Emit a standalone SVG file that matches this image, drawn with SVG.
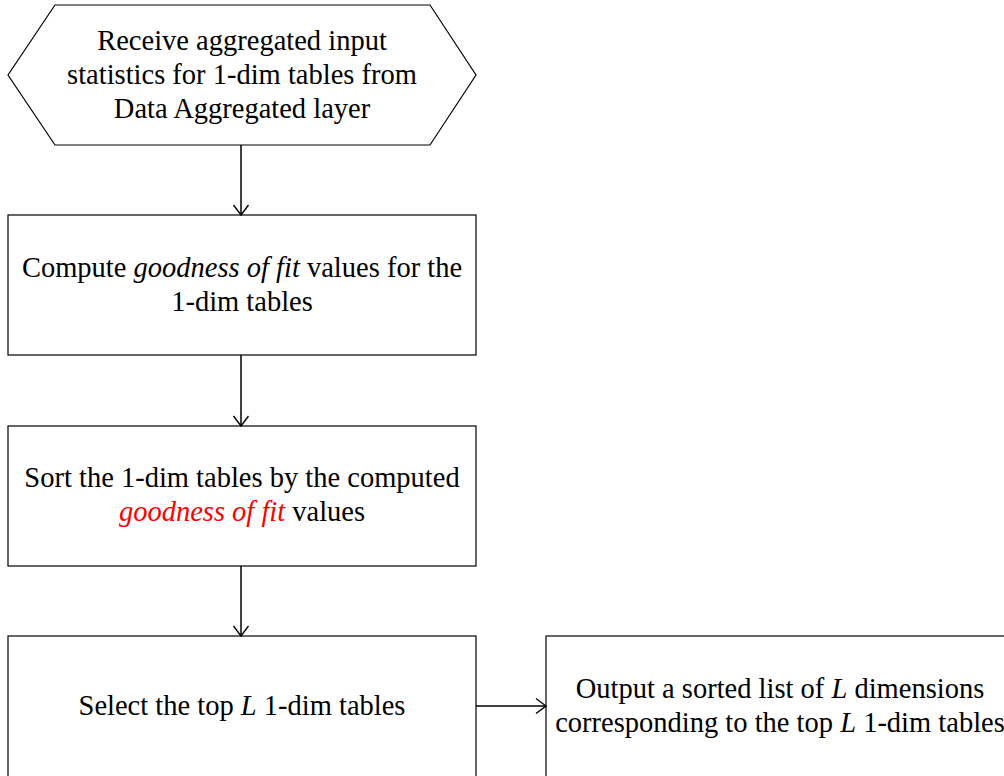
<svg xmlns="http://www.w3.org/2000/svg" width="1004" height="776" viewBox="0 0 1004 776">
<style>
.n{fill:#fff;stroke:#000;stroke-width:1.2}
.t{font-family:"Liberation Serif","Times New Roman",serif;font-size:28.5px;fill:#000;text-anchor:middle}
.i{font-style:italic}
.r{fill:#ff0000}
.c{stroke:#000;stroke-width:1.5;fill:none}
</style>
<defs>
<marker id="a" viewBox="0 0 12 18" refX="11" refY="9" markerWidth="12" markerHeight="18" markerUnits="userSpaceOnUse" orient="auto">
<polyline points="1,1.5 11,9 1,16.5" fill="none" stroke="#000" stroke-width="1.4"/>
</marker>
</defs>
<rect width="1004" height="776" fill="#fff"/>
<g id="n1">
<polygon class="n" points="55,5 430,5 476,75 430,145 55,145 8,75"/>
<text class="t" x="242" y="50">Receive aggregated input</text>
<text class="t" x="242" y="84">statistics for 1-dim tables from</text>
<text class="t" x="242" y="118">Data Aggregated layer</text>
</g>
<g id="n2">
<rect class="n" x="8" y="215" width="468" height="140"/>
<text class="t" x="242" y="277">Compute <tspan class="i">goodness of fit</tspan> values for the</text>
<text class="t" x="242" y="311">1-dim tables</text>
</g>
<g id="n3">
<rect class="n" x="8" y="426" width="468" height="140"/>
<text class="t" x="242" y="487">Sort the 1-dim tables by the computed</text>
<text class="t" x="242" y="521"><tspan class="i r">goodness of fit</tspan> values</text>
</g>
<g id="n4">
<rect class="n" x="8" y="636" width="468" height="160"/>
<text class="t" x="242" y="715">Select the top <tspan class="i">L</tspan> 1-dim tables</text>
</g>
<g id="n5">
<rect class="n" x="546" y="636" width="500" height="160"/>
<text class="t" x="780" y="698">Output a sorted list of <tspan class="i">L</tspan> dimensions</text>
<text class="t" x="780" y="732">corresponding to the top <tspan class="i">L</tspan> 1-dim tables</text>
</g>
<g id="connectors">
<line class="c" x1="241" y1="145" x2="241" y2="215" marker-end="url(#a)"/>
<line class="c" x1="241" y1="355" x2="241" y2="426" marker-end="url(#a)"/>
<line class="c" x1="241" y1="566" x2="241" y2="636" marker-end="url(#a)"/>
<line class="c" x1="476" y1="706" x2="546" y2="706" marker-end="url(#a)"/>
</g>
</svg>
